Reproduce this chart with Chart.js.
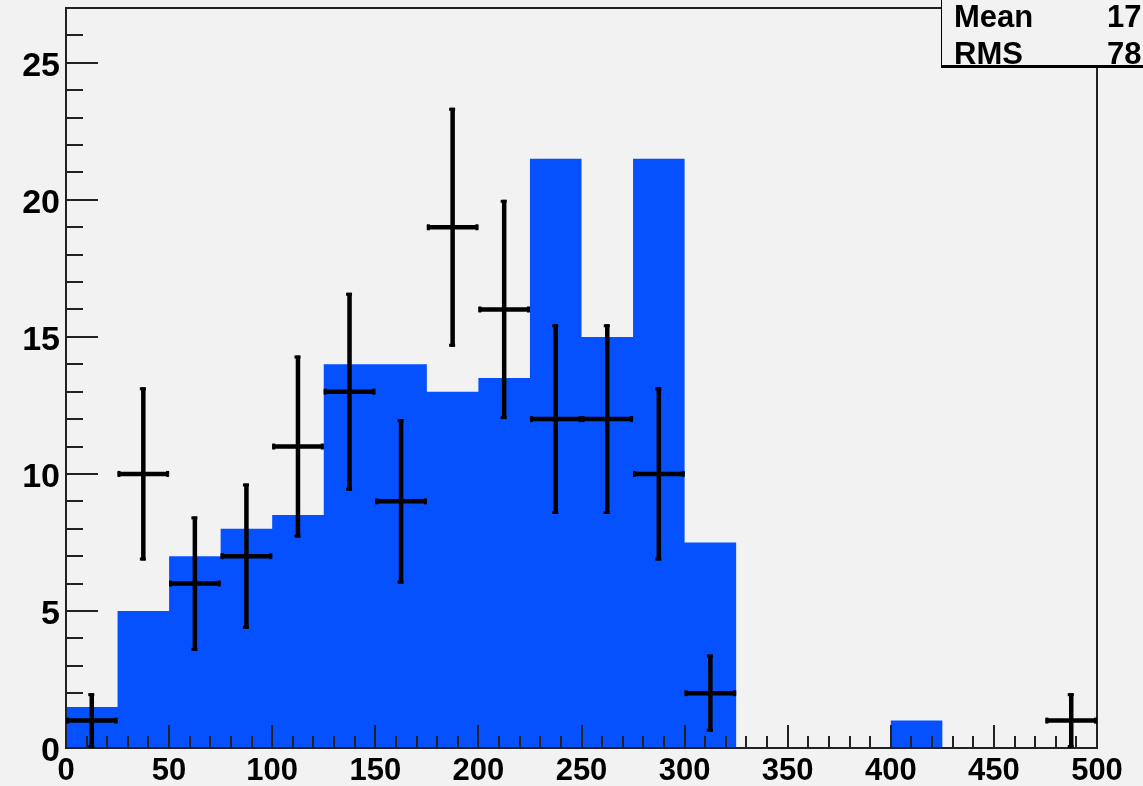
<!DOCTYPE html>
<html>
<head>
<meta charset="utf-8">
<script src="https://cdn.jsdelivr.net/npm/chart.js@4/dist/chart.umd.min.js"></script>
<style>
	html, body { margin: 0; padding: 0; background: #f2f2f2; overflow: hidden; }
	#wrap { position: relative; width: 1143px; height: 786px; }
	#stats {
		position: absolute; left: 941px; top: -60px;
		width: 260px; height: 124px;
		border: 1px solid #000; border-bottom-width: 3px;
		background: #f2f2f2;
		font: bold 31px "Liberation Sans", Arial, sans-serif;
		color: #000;
	}
	#stats span { position: absolute; line-height: 31px; white-space: nowrap; }
</style>
</head>
<body>
<div id="wrap">
	<canvas id="hist" width="1143" height="786"></canvas>
	<div id="stats">
		<span style="left:12px; top:60px;">Mean</span>
		<span style="left:165px; top:60px;">17</span>
		<span style="left:12px; top:97px;">RMS</span>
		<span style="left:165px; top:97px;">78</span>
	</div>
</div>
<script>
// histogram bins (low edges, width 25) and contents
const binWidth = 25;
const binEdges = [0, 25, 50, 75, 100, 125, 150, 175, 200, 225, 250, 275, 300, 325, 350, 375, 400, 425, 450, 475];
const histValues = [1.5, 5, 7, 8, 8.5, 14, 14, 13, 13.5, 21.5, 15, 21.5, 7.5, 0, 0, 0, 1, 0, 0, 0];

// data points with errors
const pointX = [12.5, 37.5, 62.5, 87.5, 112.5, 137.5, 162.5, 187.5, 212.5, 237.5, 262.5, 287.5, 312.5, 487.5];
const pointY = [1, 10, 6, 7, 11, 13, 9, 19, 16, 12, 12, 10, 2, 1];
const pointErr = [1, 3.16, 2.45, 2.65, 3.32, 3.61, 3, 4.36, 4, 3.46, 3.46, 3.16, 1.41, 1];

const xTicks = [0, 50, 100, 150, 200, 250, 300, 350, 400, 450, 500];
const yTicks = [0, 5, 10, 15, 20, 25];

const histFill = "#0550ff";
const labelFont = { family: "'Liberation Sans', Arial, sans-serif", weight: "bold" };

// stepped outline: each edge carries its bin value, last one closes at x=500
const stepPoints = binEdges.map((x, i) => ({ x: x, y: histValues[i] }));
stepPoints.push({ x: binEdges[binEdges.length - 1] + binWidth, y: histValues[histValues.length - 1] });

// frame, inward ticks and error crosses
const framePlugin = {
	id: "frame",
	afterDatasetsDraw(chart) {
		const ctx = chart.ctx;
		const a = chart.chartArea;
		const xs = chart.scales.x;
		const ys = chart.scales.y;
		ctx.save();
		ctx.strokeStyle = "#222";
		ctx.lineWidth = 2;
		ctx.strokeRect(a.left, a.top, a.right - a.left, a.bottom - a.top);

		ctx.beginPath();
		for (let v = 0; v <= ys.max; v++) {
			const y = Math.round(ys.getPixelForValue(v));
			const len = v % 5 === 0 ? 32 : 17;
			ctx.moveTo(a.left, y);
			ctx.lineTo(a.left + len, y);
		}
		for (let v = 0; v <= xs.max; v += 10) {
			const x = Math.round(xs.getPixelForValue(v));
			const len = v % 50 === 0 ? 23 : 12;
			ctx.moveTo(x, a.bottom);
			ctx.lineTo(x, a.bottom - len);
		}
		ctx.stroke();

		ctx.strokeStyle = "#000";
		ctx.fillStyle = "#000";
		ctx.lineWidth = 4.5;
		pointX.forEach((px, i) => {
			const xc = xs.getPixelForValue(px);
			const x1 = xs.getPixelForValue(px - binWidth / 2);
			const x2 = xs.getPixelForValue(px + binWidth / 2);
			const yc = ys.getPixelForValue(pointY[i]);
			const y1 = ys.getPixelForValue(pointY[i] + pointErr[i]);
			const y2 = ys.getPixelForValue(Math.max(0, pointY[i] - pointErr[i]));
			ctx.beginPath();
			ctx.moveTo(x1, yc);
			ctx.lineTo(x2, yc);
			ctx.moveTo(xc, y1);
			ctx.lineTo(xc, y2);
			ctx.stroke();
			// small end marks
			ctx.fillRect(x1, yc - 3, 3, 6);
			ctx.fillRect(x2 - 3, yc - 3, 3, 6);
			ctx.fillRect(xc - 3.5, y1, 6, 3);
			ctx.fillRect(xc - 3.5, y2 - 3, 6, 3);
		});
		ctx.restore();
	},
};

new Chart(document.getElementById("hist"), {
	type: "line",
	data: {
		datasets: [
			{
				data: stepPoints,
				stepped: true,
				fill: "origin",
				backgroundColor: histFill,
				borderColor: "rgba(0,0,0,0)",
				borderWidth: 0,
				pointRadius: 0,
			},
		],
	},
	options: {
		responsive: false,
		animation: false,
		devicePixelRatio: 1,
		layout: { autoPadding: false, padding: { top: 8, right: 46, left: 0, bottom: 0 } },
		plugins: {
			legend: { display: false },
			tooltip: { enabled: false },
		},
		scales: {
			x: {
				type: "linear",
				min: 0,
				max: 500,
				afterBuildTicks: (s) => { s.ticks = xTicks.map((v) => ({ value: v })); },
				afterFit: (s) => {
					s.height = 38;
					s.paddingLeft = 0;
					s.paddingRight = 0;
				},
				grid: { display: false, drawTicks: false },
				border: { display: false },
				ticks: {
					color: "#000",
					font: { ...labelFont, size: 31 },
					padding: 5,
					maxRotation: 0,
					autoSkip: false,
				},
			},
			y: {
				type: "linear",
				min: 0,
				max: 27,
				afterBuildTicks: (s) => { s.ticks = yTicks.map((v) => ({ value: v })); },
				afterFit: (s) => {
					s.width = 66;
					s.paddingTop = 0;
					s.paddingBottom = 0;
				},
				grid: { display: false, drawTicks: false },
				border: { display: false },
				ticks: {
					color: "#000",
					font: { ...labelFont, size: 34 },
					padding: 6,
					labelOffset: 4,
					autoSkip: false,
				},
			},
		},
	},
	plugins: [framePlugin],
});
</script>
</body>
</html>
